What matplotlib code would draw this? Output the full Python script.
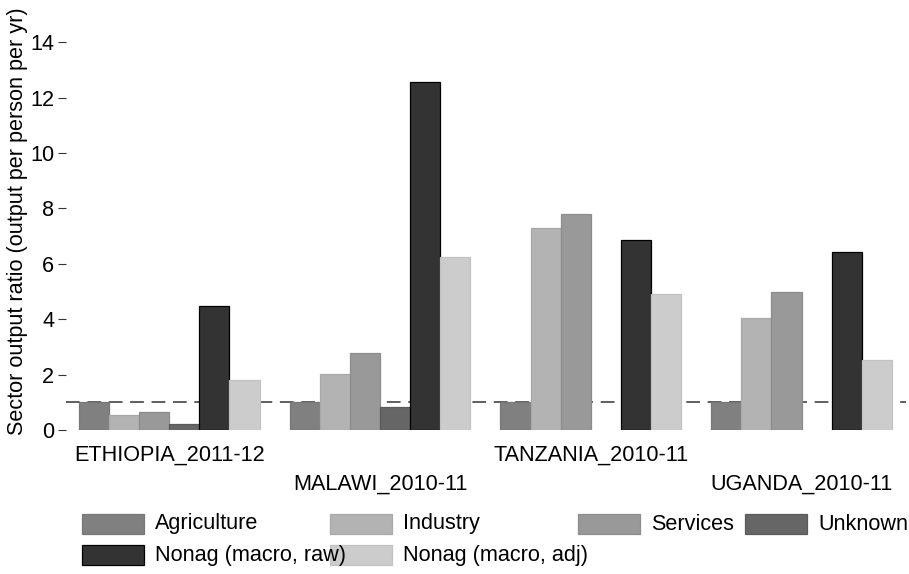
import numpy as np
import matplotlib.pyplot as plt
from matplotlib.patches import Rectangle

plt.rcParams['font.family'] = ['Liberation Sans', 'DejaVu Sans']

countries = ['ETHIOPIA_2011-12', 'MALAWI_2010-11', 'TANZANIA_2010-11', 'UGANDA_2010-11']
series = ['Agriculture', 'Industry', 'Services', 'Unknown',
          'Nonag (macro, raw)', 'Nonag (macro, adj)']

# sector output ratios by country (nan = not available)
agriculture = [1.0, 1.0, 1.0, 1.0]
industry = [0.54, 2.02, 7.30, 4.03]
services = [0.64, 2.79, 7.80, 4.99]
unknown = [0.20, 0.82, np.nan, np.nan]
nonag_raw = [4.48, 12.56, 6.85, 6.41]
nonag_adj = [1.80, 6.25, 4.90, 2.53]

values = [agriculture, industry, services, unknown, nonag_raw, nonag_adj]
fills = ['#808080', '#b3b3b3', '#999999', '#666666', '#333333', '#cccccc']
edges = ['#777777', '#a8a8a8', '#8c8c8c', '#5a5a5a', '#000000', '#c2c2c2']

FS = 15.6
W, H = 909, 574
fig = plt.figure(figsize=(W / 100, H / 100), dpi=100)
ax = fig.add_axes([66 / W, 1 - 430 / H, 840 / W, 399 / H])

nbars = len(series)
step = nbars + 1
for i, vals in enumerate(values):
    for g, v in enumerate(vals):
        if np.isnan(v):
            continue
        ax.bar(g * step + i + 0.5, v, width=1.0, color=fills[i],
               edgecolor=edges[i], linewidth=0.9)

ax.axhline(1.0, color='#333333', lw=1.1, ls=(0, (9, 5)), zorder=0.5)

ax.set_xlim(-0.43, 27.47)
ax.set_ylim(0, 14.4)
ax.set_yticks(np.arange(0, 15, 2))
ax.tick_params(axis='y', length=6, width=0.8, pad=2.5, labelsize=FS, color='#333333')
ax.set_xticks([])
for s in ax.spines.values():
    s.set_visible(False)

# staggered country labels below the groups
for g, name in enumerate(countries):
    off = -25 if g % 2 == 0 else -54
    ax.annotate(name, xy=(g * step + nbars / 2, 0), xycoords=('data', 'axes fraction'),
                xytext=(0, off * 0.72), textcoords='offset points',
                ha='center', va='center', fontsize=FS)

fig.text(18 / W, 1 - 221 / H, 'Sector output ratio (output per person per yr)',
         rotation=90, ha='center', va='center', fontsize=FS)

# legend, laid out in pixel coordinates
keys = [(82, 514), (330, 514), (578, 514), (745, 514), (82, 545), (330, 545)]
for i, (kx, ky) in enumerate(keys):
    fig.add_artist(Rectangle((kx / W, 1 - (ky + 20) / H), 62 / W, 20 / H,
                             transform=fig.transFigure, facecolor=fills[i],
                             edgecolor=edges[i], linewidth=0.9))
    fig.text((kx + 73) / W, 1 - (ky + 10) / H, series[i],
             ha='left', va='center', fontsize=FS)

fig.savefig('out.png', dpi=100, facecolor='white')
